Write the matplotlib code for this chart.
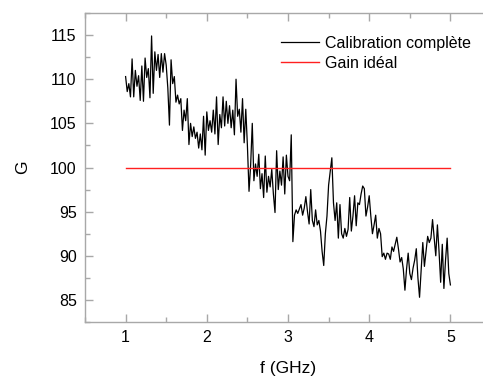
import numpy as np
import matplotlib
matplotlib.use("Agg")
import matplotlib.pyplot as plt
from matplotlib.ticker import MultipleLocator

plt.rcParams['font.family'] = ['Liberation Sans', 'DejaVu Sans']

# Measured gain, sampled every 0.02 GHz from 1 to 5 GHz
gain = [
    110.3, 108.6, 109.5, 108.0, 112.3, 108.0, 111.0, 109.2, 110.4, 107.6,
    111.5, 107.5, 112.4, 110.2, 111.2, 107.9, 114.9, 108.4, 113.1, 111.0,
    112.8, 110.2, 112.9, 110.8, 112.9, 111.6, 109.0, 104.8, 112.2, 109.5,
    110.3, 107.4, 108.2, 107.2, 107.8, 104.2, 106.5, 105.3, 107.8, 102.6,
    105.0, 103.5, 104.6, 103.3, 104.0, 102.2, 103.8, 102.0, 105.8, 101.4,
    106.3, 104.2, 105.3, 104.0, 106.5, 103.8, 108.0, 102.6, 106.0, 104.5,
    108.0, 104.7, 107.5, 105.0, 107.0, 104.5, 106.5, 103.7, 110.0, 105.8,
    106.6, 104.0, 107.8, 102.8, 106.6, 102.5, 97.3, 100.3, 105.0, 98.5,
    100.4, 99.0, 101.5, 97.6, 99.3, 96.6, 101.3, 97.2, 99.0, 97.8,
    99.8, 97.0, 94.9, 101.9, 97.5, 99.6, 98.0, 101.2, 97.0, 101.4,
    99.0, 98.5, 103.7, 91.6, 94.6, 95.2, 94.8, 95.3, 95.8, 94.6,
    95.4, 96.7, 95.0, 93.6, 97.5, 94.0, 93.3, 95.2, 93.5, 94.0,
    92.8, 90.5, 88.9, 92.5, 94.5, 98.0, 99.5, 101.1, 96.0, 94.0,
    96.0, 92.0, 95.8, 92.5, 92.0, 93.1, 92.2, 93.0, 96.6, 92.8,
    94.5, 96.8, 93.4, 96.0, 95.8, 97.0, 97.9, 97.6, 94.5, 95.5,
    96.8, 94.5, 92.5, 93.5, 94.6, 92.0, 93.1, 92.5, 89.9, 90.3,
    89.6, 90.3, 90.2, 89.6, 91.0, 90.5, 91.3, 92.1, 90.8, 89.3,
    89.8, 88.5, 86.1, 88.5, 90.3, 88.0, 87.3, 88.6, 89.5, 90.8,
    87.5, 85.3, 88.5, 91.5, 88.8, 90.5, 92.2, 91.5, 92.0, 94.1,
    92.0, 90.0, 93.5, 90.5, 87.0, 91.3, 86.3, 89.5, 92.0, 88.0,
    86.7,
]
freq = np.linspace(1.0, 5.0, len(gain))

ideal_freq = [1.0, 5.0]
ideal_gain = [100.0, 100.0]

series_labels = ["Calibration complète", "Gain idéal"]
xticks = [1, 2, 3, 4, 5]
yticks = [85, 90, 95, 100, 105, 110, 115]

fig = plt.figure(figsize=(4.83, 3.76), dpi=100)
ax = fig.add_axes([85/483, 1 - 322/376, 406/483, 309/376])

ax.plot(freq, gain, color='black', lw=0.9, label=series_labels[0])
ax.plot(ideal_freq, ideal_gain, color='#ff2020', lw=1.0, label=series_labels[1])

ax.set_xlim(0.5, 5.5)
ax.set_ylim(82.5, 117.5)
ax.set_xticks(xticks)
ax.set_yticks(yticks)
ax.xaxis.set_minor_locator(MultipleLocator(0.5))
ax.yaxis.set_minor_locator(MultipleLocator(2.5))

spine_col = '#a8a8a8'
for s in ax.spines.values():
    s.set_color(spine_col)
    s.set_linewidth(1.0)
ax.spines['right'].set_visible(False)

ax.tick_params(which='both', direction='in', top=True, right=False,
               color=spine_col, width=1.0, labelsize=11.5, labelcolor='black')
ax.tick_params(which='major', length=6, pad=6)
ax.tick_params(which='minor', length=3.5)

ax.set_xlabel("f (GHz)", fontsize=12.5, labelpad=11)
ax.set_ylabel("G", fontsize=12.5, labelpad=14)

leg = ax.legend(loc='upper left', bbox_to_anchor=(281/483, 1 - 36/376),
                bbox_transform=fig.transFigure, frameon=False, fontsize=11.5,
                borderpad=0, borderaxespad=0, handlelength=2.4,
                handletextpad=0.35, labelspacing=0.3)

fig.savefig("out.png", dpi=100)
